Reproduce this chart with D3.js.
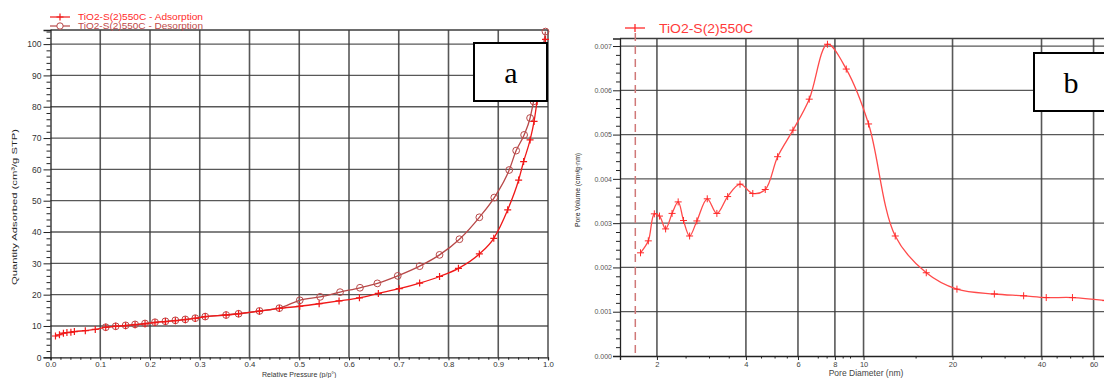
<!DOCTYPE html>
<html>
<head>
<meta charset="utf-8">
<script src="https://cdn.jsdelivr.net/npm/d3@7"></script>
<style>
  html, body { margin: 0; padding: 0; background: #fff; }
  svg { display: block; }
  text { font-family: "Liberation Sans", Arial, sans-serif; }
</style>
</head>
<body>
<svg id="chart" width="1104" height="378"></svg>
<script>
// ---------- Panel a : isotherm ----------
const legendA = ["TiO2-S(2)550C - Adsorption", "TiO2-S(2)550C - Desorption"];
const adsP = [0.010,0.018,0.026,0.033,0.041,0.048,0.070,0.090,0.111,0.131,0.151,0.170,0.190,0.210,0.231,0.251,0.271,0.291,0.311,0.353,0.378,0.420,0.460,0.501,0.540,0.580,0.621,0.659,0.701,0.742,0.782,0.820,0.862,0.891,0.919,0.941,0.951,0.964,0.972,0.978,0.986,0.995];
const adsQ = [6.8,7.2,7.7,7.9,8.0,8.2,8.5,8.9,9.6,9.9,10.1,10.4,10.7,11.1,11.4,11.7,12.0,12.4,13.0,13.5,13.9,14.7,15.6,16.3,17.1,18.0,19.0,20.4,21.9,23.7,25.8,28.4,33.0,38.0,47.1,56.6,62.5,69.4,75.3,81.7,90.0,101.5];
const desP = [0.995,0.982,0.971,0.964,0.952,0.936,0.922,0.892,0.862,0.822,0.782,0.742,0.698,0.657,0.622,0.582,0.542,0.501,0.460,0.420,0.378,0.353,0.311,0.291,0.271,0.251,0.231,0.210,0.190,0.170,0.151,0.131,0.111];
const desQ = [104.0,91.0,81.7,76.4,71.0,66.0,59.8,51.0,44.7,37.7,32.7,29.1,26.0,23.6,22.2,20.8,19.3,18.2,15.7,14.8,13.9,13.5,13.0,12.5,12.1,11.8,11.5,11.2,10.8,10.5,10.2,9.9,9.6];
const xTicksA = [0,0.1,0.2,0.3,0.4,0.5,0.6,0.7,0.8,0.9,1.0];
const xTickLabelsA = ["0.0","0.1","0.2","0.3","0.4","0.5","0.6","0.7","0.8","0.9","1.0"];
const yTicksA = [0,10,20,30,40,50,60,70,80,90,100];
const xTitleA = "Relative Pressure (p/p°)";
const yTitleA = "Quantity Adsorbed (cm³/g STP)";

// ---------- Panel b : pore size distribution ----------
const legendB = "TiO2-S(2)550C";
const psdD = [1.76,1.87,1.96,2.04,2.14,2.25,2.36,2.46,2.58,2.73,2.96,3.19,3.47,3.82,4.22,4.65,5.12,5.77,6.55,7.55,8.74,10.4,12.8,16.3,20.7,27.7,34.8,41.5,50.9,66];
const psdV = [0.00233,0.00260,0.00321,0.00316,0.00287,0.00322,0.00348,0.00306,0.00271,0.00305,0.00355,0.00322,0.00360,0.00388,0.00367,0.00376,0.00450,0.00510,0.00580,0.00704,0.00648,0.00524,0.00271,0.00188,0.00151,0.00140,0.00136,0.00132,0.00132,0.00125];
const xTicksB = [2,4,6,8,10,20,40,60];
const xMinorB = [1.5,2.5,3,3.5,4.5,5,5.5,7,7.5,8.5,9,15,25,30,35,45,50,55];
const yTicksB = [0,0.001,0.002,0.003,0.004,0.005,0.006,0.007];
const dashedD = 1.69;
const xTitleB = "Pore Diameter (nm)";
const yTitleB = "Pore Volume (cm³/g·nm)";

const svg = d3.select("#chart");
const gridColor = "#3c3c3c";

// ================= Panel a =================
const xA = d3.scaleLinear().domain([0, 1]).range([50.5, 548]);
const yA = d3.scaleLinear().domain([0, 104.5]).range([357.3, 30]);
const gA = svg.append("g");

// gridlines
gA.selectAll("line.vg").data(xTicksA.slice(1)).join("line")
  .attr("x1", d => xA(d)).attr("x2", d => xA(d))
  .attr("y1", yA(104.5)).attr("y2", yA(0))
  .attr("stroke", gridColor).attr("stroke-width", 1.6).attr("opacity", 0.85);
gA.selectAll("line.hg").data(yTicksA.slice(1)).join("line")
  .attr("x1", xA(0)).attr("x2", xA(1))
  .attr("y1", d => yA(d)).attr("y2", d => yA(d))
  .attr("stroke", gridColor).attr("stroke-width", 1.3).attr("opacity", 0.85);
gA.append("line").attr("x1", xA(0)).attr("x2", xA(1)).attr("y1", yA(104.5)).attr("y2", yA(104.5))
  .attr("stroke", gridColor).attr("stroke-width", 1.3);

// y axis
const yAxisA = d3.axisLeft(yA).tickValues(yTicksA).tickSize(7).tickPadding(2).tickFormat(d3.format("d"));
const yAxA = gA.append("g").attr("transform", `translate(${xA(0)},0)`).call(yAxisA);
yAxA.select(".domain").attr("stroke", "#222").attr("stroke-width", 1.3);
yAxA.selectAll(".tick line").attr("stroke", "#222");
yAxA.selectAll(".tick text").attr("font-size", 8.5).attr("fill", "#333").style("font-family", "Liberation Sans, Arial, sans-serif");
const yMinorA = d3.range(0, 104.5, 2).filter(v => v % 10 !== 0);
gA.append("g").call(d3.axisLeft(yA).tickValues(yMinorA).tickSize(4).tickFormat(""))
  .attr("transform", `translate(${xA(0)},0)`)
  .call(g => g.select(".domain").remove())
  .selectAll("line").attr("stroke", "#222");

// x axis
const xAxisA = d3.axisBottom(xA).tickValues(xTicksA).tickSize(3).tickPadding(1).tickFormat((d, i) => xTickLabelsA[i]);
const xAxA = gA.append("g").attr("transform", `translate(0,${yA(0)})`).call(xAxisA);
xAxA.select(".domain").attr("stroke", "#222").attr("stroke-width", 1.3);
xAxA.selectAll(".tick line").attr("stroke", "#222");
xAxA.selectAll(".tick text").attr("font-size", 7.8).attr("fill", "#333").style("font-family", "Liberation Sans, Arial, sans-serif");
const xMinorA = d3.range(0.02, 1, 0.02).filter(v => Math.abs(v * 10 - Math.round(v * 10)) > 1e-6);
gA.append("g").attr("transform", `translate(0,${yA(0)})`)
  .call(d3.axisBottom(xA).tickValues(xMinorA).tickSize(2.5).tickFormat(""))
  .call(g => g.select(".domain").remove())
  .selectAll("line").attr("stroke", "#222");

// titles
gA.append("text").attr("x", xA(0.5)).attr("y", 376.6).attr("text-anchor", "middle")
  .attr("font-size", 7).attr("fill", "#333").text(xTitleA);
gA.append("text").attr("transform", `translate(17,${yA(48)}) rotate(-90)`).attr("text-anchor", "middle")
  .attr("font-size", 8).attr("fill", "#222").attr("textLength", 156).attr("lengthAdjust", "spacingAndGlyphs")
  .text(yTitleA);

// series
const adsData = adsP.map((p, i) => ({ p, q: adsQ[i] }));
const desData = desP.map((p, i) => ({ p, q: desQ[i] })).sort((a, b) => a.p - b.p);
const lineA = d3.line().x(d => xA(d.p)).y(d => yA(d.q)).curve(d3.curveMonotoneX);
const adsColor = "#f01818";
const desColor = "#b84848";

gA.append("path").datum(desData).attr("d", lineA).attr("fill", "none").attr("stroke", desColor).attr("stroke-width", 1.3);
gA.selectAll("circle.des").data(desData).join("circle")
  .attr("cx", d => xA(d.p)).attr("cy", d => yA(d.q)).attr("r", 3.4)
  .attr("fill", "none").attr("stroke", desColor).attr("stroke-width", 1);
gA.append("path").datum(adsData).attr("d", lineA).attr("fill", "none").attr("stroke", adsColor).attr("stroke-width", 1.3);
gA.selectAll("path.ads").data(adsData).join("path")
  .attr("d", d => { const x = xA(d.p), y = yA(d.q); return `M${x-3.5},${y}H${x+3.5}M${x},${y-3.5}V${y+3.5}`; })
  .attr("stroke", adsColor).attr("stroke-width", 1.2).attr("fill", "none");

// legend
const legA = gA.append("g");
legA.append("line").attr("x1", 50).attr("x2", 70).attr("y1", 17).attr("y2", 17).attr("stroke", adsColor).attr("stroke-width", 1.2);
legA.append("path").attr("d", "M56.5,17H63.5M60,13.5V20.5").attr("stroke", adsColor).attr("stroke-width", 1.2);
legA.append("text").attr("x", 78).attr("y", 20.3).attr("font-size", 8.8).attr("fill", "#ff2a2a")
  .attr("textLength", 125).attr("lengthAdjust", "spacingAndGlyphs").text(legendA[0]);
legA.append("line").attr("x1", 50).attr("x2", 70).attr("y1", 26).attr("y2", 26).attr("stroke", desColor).attr("stroke-width", 1.2);
legA.append("circle").attr("cx", 60).attr("cy", 26).attr("r", 3.2).attr("fill", "#fff").attr("stroke", desColor);
legA.append("text").attr("x", 78).attr("y", 29.3).attr("font-size", 8.8).attr("fill", "#c04a4a")
  .attr("textLength", 125).attr("lengthAdjust", "spacingAndGlyphs").text(legendA[1]);

// label box a
gA.append("rect").attr("x", 474).attr("y", 43).attr("width", 73).attr("height", 58)
  .attr("fill", "#fff").attr("stroke", "#000").attr("stroke-width", 2);
gA.append("text").attr("x", 511).attr("y", 83).attr("text-anchor", "middle")
  .attr("font-size", 30).style("font-family", "Liberation Serif, Times New Roman, serif").attr("fill", "#000").text("a");

// ================= Panel b =================
const xB = d3.scaleLog().domain([1.5, 70]).range([620, 620 + 295.6 * Math.log10(70 / 1.5)]);
const yB = d3.scaleLinear().domain([0, 0.00717]).range([356, 38.5]);
const gB = svg.append("g");

gB.selectAll("line.vg").data(xTicksB).join("line")
  .attr("x1", d => xB(d)).attr("x2", d => xB(d))
  .attr("y1", yB(0.00717)).attr("y2", yB(0))
  .attr("stroke", gridColor).attr("stroke-width", 1.6).attr("opacity", 0.85);
gB.selectAll("line.hg").data(yTicksB.slice(1)).join("line")
  .attr("x1", xB(1.5)).attr("x2", 1104)
  .attr("y1", d => yB(d)).attr("y2", d => yB(d))
  .attr("stroke", gridColor).attr("stroke-width", 1.3).attr("opacity", 0.85);
gB.append("line").attr("x1", xB(1.5)).attr("x2", 1104).attr("y1", yB(0.00717)).attr("y2", yB(0.00717))
  .attr("stroke", gridColor).attr("stroke-width", 1.3);

// y axis
const yAxB = gB.append("g").attr("transform", `translate(${xB(1.5)},0)`)
  .call(d3.axisLeft(yB).tickValues(yTicksB).tickSize(7).tickPadding(1).tickFormat(d3.format(".3f")));
yAxB.select(".domain").attr("stroke", "#222").attr("stroke-width", 1.3);
yAxB.selectAll(".tick line").attr("stroke", "#222");
yAxB.selectAll(".tick text").attr("font-size", 7).attr("fill", "#555").style("font-family", "Liberation Sans, Arial, sans-serif");
const yMinorB = d3.range(0, 0.00717, 0.0002).filter(v => Math.abs(v * 1000 - Math.round(v * 1000)) > 1e-6);
gB.append("g").attr("transform", `translate(${xB(1.5)},0)`)
  .call(d3.axisLeft(yB).tickValues(yMinorB).tickSize(4).tickFormat(""))
  .call(g => g.select(".domain").remove())
  .selectAll("line").attr("stroke", "#222");

// x axis
const xAxB = gB.append("g").attr("transform", `translate(0,${yB(0)})`)
  .call(d3.axisBottom(xB).tickValues(xTicksB).tickSize(4).tickPadding(2).tickFormat(d3.format("d")));
xAxB.select(".domain").attr("stroke", "#222").attr("stroke-width", 1.3);
xAxB.selectAll(".tick line").attr("stroke", "#222");
xAxB.selectAll(".tick text").attr("font-size", 7.5).attr("fill", "#444").style("font-family", "Liberation Sans, Arial, sans-serif");
gB.append("g").attr("transform", `translate(0,${yB(0)})`)
  .call(d3.axisBottom(xB).tickValues(xMinorB).tickSize(2.5).tickFormat(""))
  .call(g => g.select(".domain").remove())
  .selectAll("line").attr("stroke", "#222");

// titles
gB.append("text").attr("x", 866).attr("y", 376).attr("text-anchor", "middle")
  .attr("font-size", 8.5).attr("fill", "#444").text(xTitleB);
gB.append("text").attr("transform", `translate(580,${yB(0.00375)}) rotate(-90)`).attr("text-anchor", "middle")
  .attr("font-size", 7).attr("fill", "#222").attr("textLength", 74).attr("lengthAdjust", "spacingAndGlyphs")
  .text(yTitleB);

// dashed marker line
gB.append("line").attr("x1", xB(dashedD)).attr("x2", xB(dashedD)).attr("y1", 33).attr("y2", yB(0))
  .attr("stroke", "#d07878").attr("stroke-width", 1.5).attr("stroke-dasharray", "8,5");

// series
const psdData = psdD.map((d, i) => ({ d, v: psdV[i] }));
const psdColor = "#ff4a4a";
gB.append("path").datum(psdData)
  .attr("d", d3.line().x(d => xB(d.d)).y(d => yB(d.v)).curve(d3.curveCatmullRom.alpha(0.5)))
  .attr("fill", "none").attr("stroke", psdColor).attr("stroke-width", 1.3);
gB.selectAll("path.pm").data(psdData).join("path")
  .attr("d", d => { const x = xB(d.d), y = yB(d.v); return `M${x-3.5},${y}H${x+3.5}M${x},${y-3.5}V${y+3.5}`; })
  .attr("stroke", "#ff2a2a").attr("stroke-width", 1).attr("fill", "none");

// legend
gB.append("line").attr("x1", 625).attr("x2", 645).attr("y1", 28).attr("y2", 28).attr("stroke", "#ff2a2a").attr("stroke-width", 1.3);
gB.append("path").attr("d", "M635,24V32").attr("stroke", "#ff2a2a").attr("stroke-width", 1.3);
gB.append("text").attr("x", 659).attr("y", 32.5).attr("font-size", 12.5).attr("fill", "#ff3a3a")
  .attr("textLength", 94).attr("lengthAdjust", "spacingAndGlyphs").text(legendB);

// label box b
gB.append("rect").attr("x", 1034).attr("y", 53).attr("width", 80).attr("height", 58)
  .attr("fill", "#fff").attr("stroke", "#000").attr("stroke-width", 2);
gB.append("text").attr("x", 1071).attr("y", 92.5).attr("text-anchor", "middle")
  .attr("font-size", 30).style("font-family", "Liberation Serif, Times New Roman, serif").attr("fill", "#000").text("b");
</script>
</body>
</html>
